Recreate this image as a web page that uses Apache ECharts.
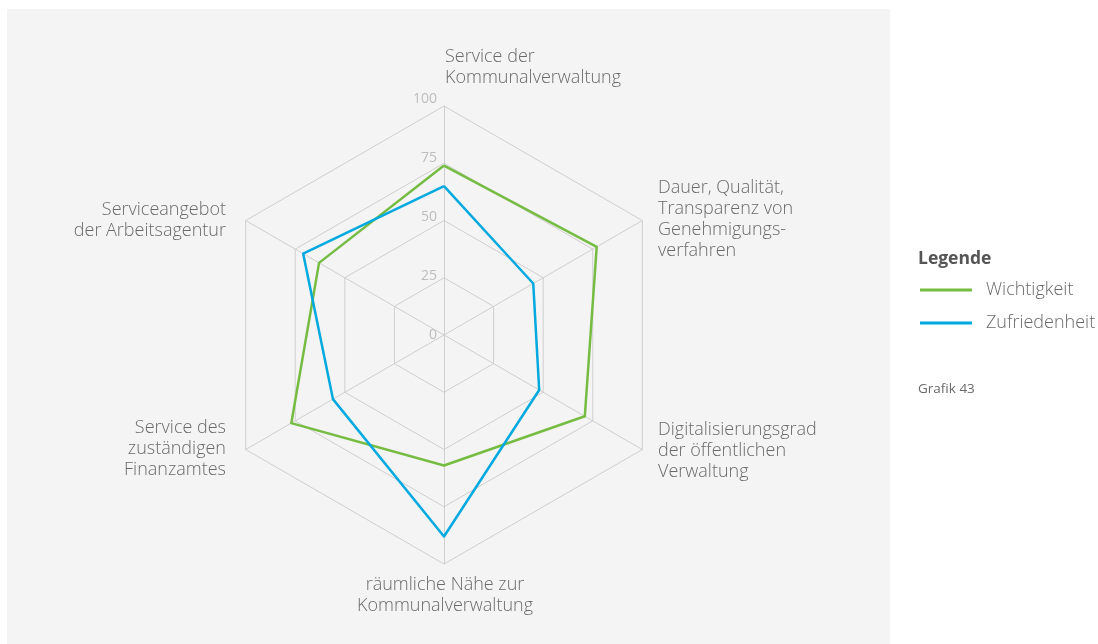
<!DOCTYPE html>
<html>
<head>
<meta charset="utf-8">
<script src="https://cdn.jsdelivr.net/npm/echarts@6/dist/echarts.min.js"></script>
<style>
  html, body { margin: 0; padding: 0; background: #fff; }
  #chart { width: 1098px; height: 644px; }
</style>
</head>
<body>
<div id="chart"></div>
<script>
//---------------------------Data---------------------------
// indicators in ECharts order (counter-clockwise, starting at top)
let axisNames = [
    'Service der\nKommunalverwaltung',
    'Serviceangebot\nder Arbeitsagentur',
    'Service des\nzuständigen\nFinanzamtes',
    'räumliche Nähe zur\nKommunalverwaltung',
    'Digitalisierungsgrad\nder öffentlichen\nVerwaltung',
    'Dauer, Qualität,\nTransparenz von\nGenehmigungs-\nverfahren'
];
let wichtigkeit = [74, 63, 77, 57, 71, 77];
let zufriedenheit = [65, 71, 56, 88, 48, 45];
let ticks = [0, 25, 50, 75, 100];
let seriesNames = ['Wichtigkeit', 'Zufriedenheit'];

//---------------------------UI---------------------------
let chart = echarts.init(document.getElementById('chart'));

let cx = 444;
let cy = 335;
let radius = 229;
let font = '"Open Sans", "Noto Sans", sans-serif';
let textGray = '#6a6a6a';

// axis names, placed around the radar (same order as axisNames)
let namePos = [
    {x: cx + 1, y: cy - 289, align: 'left'},
    {x: cx - 218, y: cy - 136, align: 'right'},
    {x: cx - 218, y: cy + 82, align: 'right'},
    {x: cx + 1, y: cy + 239, align: 'center'},
    {x: cx + 214, y: cy + 84, align: 'left'},
    {x: cx + 214, y: cy - 158, align: 'left'}
];

let graphics = [
    {type: 'rect', z: -10, shape: {x: 7, y: 9, width: 883, height: 640}, style: {fill: '#f4f4f4'}}
];

for (let i = 0; i < axisNames.length; i++) {
    graphics.push({
        type: 'text',
        x: namePos[i].x,
        y: namePos[i].y,
        style: {
            text: axisNames[i],
            fill: textGray,
            font: '300 18px ' + font,
            lineHeight: 21,
            align: namePos[i].align,
            verticalAlign: 'top'
        }
    });
}

// tick labels along the top axis
for (let i = 0; i < ticks.length; i++) {
    graphics.push({
        type: 'text',
        x: cx - 7,
        y: cy - 236 * ticks[i] / 100,
        style: {
            text: String(ticks[i]),
            fill: '#bdbdbd',
            font: '14px ' + font,
            align: 'right',
            verticalAlign: 'middle'
        }
    });
}

graphics.push({
    type: 'text', x: 918, y: 259,
    style: {text: 'Legende', fill: '#555', font: 'bold 17.5px ' + font, verticalAlign: 'middle'}
});
graphics.push({
    type: 'text', x: 918, y: 389,
    style: {text: 'Grafik 43', fill: textGray, font: '13.5px ' + font, verticalAlign: 'middle'}
});

let indicator = [];
for (let i = 0; i < axisNames.length; i++) {
    indicator.push({name: axisNames[i], min: 0, max: 100});
}

let option = {
    animation: false,
    backgroundColor: '#fff',
    graphic: graphics,
    legend: {
        data: seriesNames,
        orient: 'vertical',
        left: 915,
        top: 275,
        itemWidth: 52,
        itemHeight: 3,
        itemGap: 13,
        icon: 'rect',
        textStyle: {color: textGray, fontSize: 18, lineHeight: 20, fontWeight: 300, fontFamily: font, padding: [0, 0, 0, 9]}
    },
    radar: {
        center: [cx, cy],
        radius: radius,
        startAngle: 90,
        shape: 'polygon',
        splitNumber: 4,
        indicator: indicator,
        axisName: {show: false},
        axisLine: {lineStyle: {color: '#cfcfcf', width: 1}},
        splitLine: {lineStyle: {color: '#cfcfcf', width: 1}},
        splitArea: {show: false},
        axisTick: {show: false},
        axisLabel: {show: false}
    },
    series: [{
        type: 'radar',
        symbol: 'none',
        data: [
            {name: seriesNames[0], value: wichtigkeit, lineStyle: {color: '#76bc43', width: 2.5}, itemStyle: {color: '#76bc43'}},
            {name: seriesNames[1], value: zufriedenheit, lineStyle: {color: '#00a9df', width: 2.5}, itemStyle: {color: '#00a9df'}}
        ]
    }]
};

chart.setOption(option);
</script>
</body>
</html>
